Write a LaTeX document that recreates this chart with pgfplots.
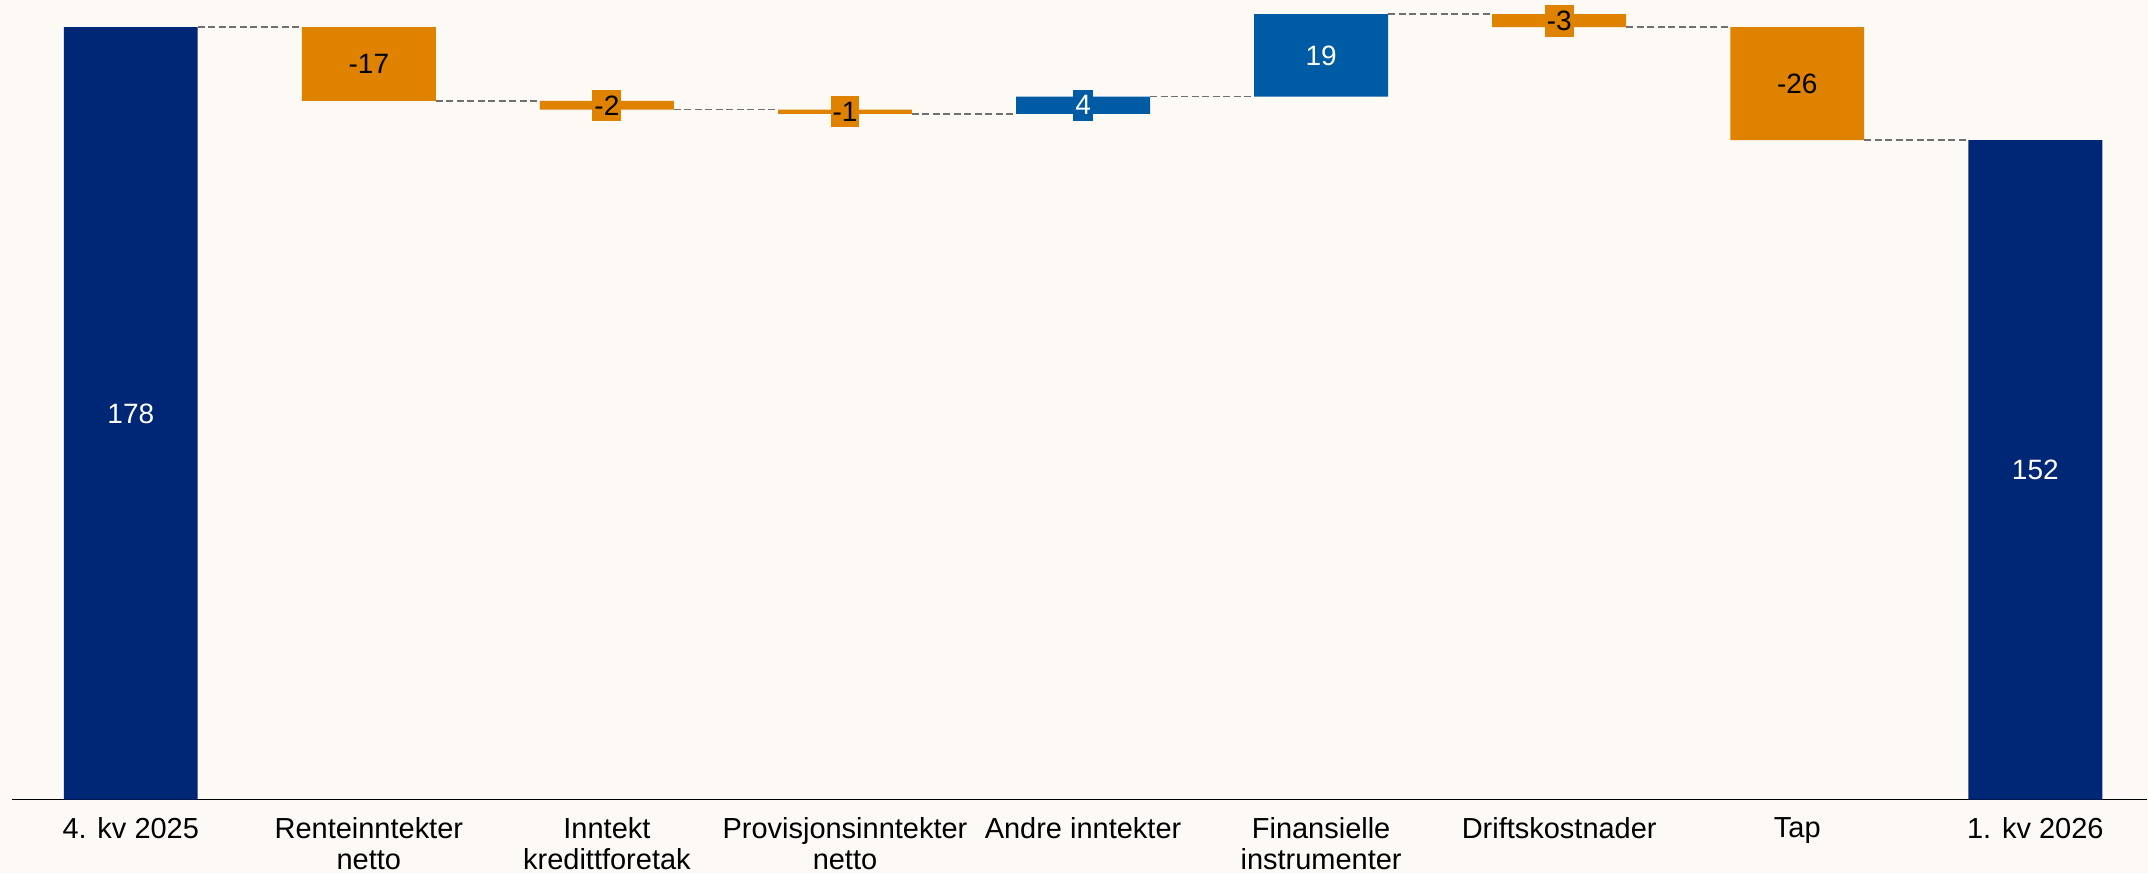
\documentclass[border={0pt 0pt 0pt 2.4pt}]{standalone}
\usepackage{fontspec}
\setmainfont{Liberation Sans}
\usepackage{pgfplots}
\pgfplotsset{compat=1.18}
\definecolor{bg}{HTML}{FDF9F5}
\definecolor{navy}{HTML}{002776}
\definecolor{orng}{HTML}{DF8200}
\definecolor{blu}{HTML}{005BA5}
\definecolor{conn}{HTML}{707070}
\pagecolor{bg}
\pgfplotstableread{
x base navy orng blu
0 0   178 0  0
1 161 0   17 0
2 159 0   2  0
3 158 0   1  0
4 158 0   0  4
5 162 0   0  19
6 178 0   3  0
7 152 0   26 0
8 0   152 0  0
}\wf
\begin{document}
\begin{tikzpicture}
\pgfplotsset{
  common/.style={
    scale only axis, width=1074pt, height=400pt,
    xmin=-0.546, xmax=8.47, ymin=0, ymax=184.2,
  },
  lab/.style={only marks, mark=none, point meta=explicit symbolic,
    nodes near coords, nodes near coords align=center,
    every node near coord/.append style={font=\fontsize{14}{14}\selectfont,
      text=#1, inner xsep=1pt, inner ysep=3pt, anchor=center}},
}
\begin{axis}[common, ybar stacked, bar width=0.5625,
  axis x line*=bottom, axis y line=none,
  x axis line style={line width=0.8pt, shorten <=5.5pt},
  xtick={0,...,8}, xtick style={draw=none}, ytick=\empty,
  xticklabels={4. kv 2025,{Renteinntekter\\netto},{Inntekt\\kredittforetak},{Provisjonsinntekter\\netto},Andre inntekter,{Finansielle\\instrumenter},Driftskostnader,Tap,1. kv 2026},
  xticklabel style={align=center, font=\fontsize{14.5}{15.5}\selectfont, inner ysep=2pt, text=black, yshift=-6.5pt},
]
\addplot[draw=none, fill=none] table[x=x, y=base] {\wf};
\addplot[draw=none, fill=navy] table[x=x, y=navy] {\wf};
\addplot[draw=none, fill=orng] table[x=x, y=orng] {\wf};
\addplot[draw=none, fill=blu] table[x=x, y=blu] {\wf};
\end{axis}
\begin{axis}[common, hide axis]
\addplot[conn, line width=0.75pt, dash pattern=on 3.5pt off 1.75pt, unbounded coords=jump] coordinates {
(0.28125,178) (0.71875,178) (0.72,nan)
(1.28125,161) (1.71875,161) (1.72,nan)
(2.28125,159) (2.71875,159) (2.72,nan)
(3.28125,158) (3.71875,158) (3.72,nan)
(4.28125,162) (4.71875,162) (4.72,nan)
(5.28125,181) (5.71875,181) (5.72,nan)
(6.28125,178) (6.71875,178) (6.72,nan)
(7.28125,152) (7.71875,152)
};
\addplot[lab=white, every node near coord/.append style={fill=navy}] coordinates {(0,89) [178] (8,76) [152]};
\addplot[lab=black, every node near coord/.append style={fill=orng}] coordinates {(1,169.5) [-17] (2,160) [-2] (3,158.5) [-1] (6,179.5) [-3] (7,165) [-26]};
\addplot[lab=white, every node near coord/.append style={fill=blu}] coordinates {(4,160) [4] (5,171.5) [19]};
\end{axis}
\end{tikzpicture}
\end{document}
